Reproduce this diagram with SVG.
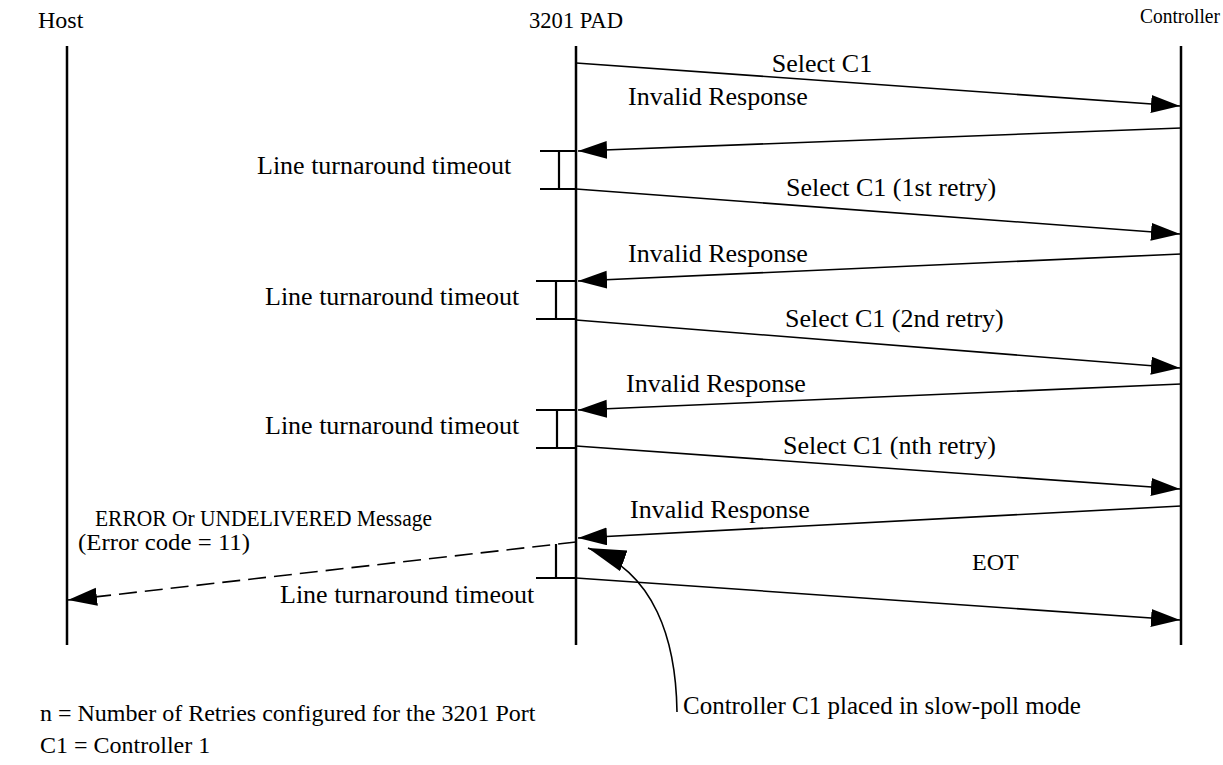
<svg xmlns="http://www.w3.org/2000/svg" width="1223" height="765" viewBox="0 0 1223 765">
  <style>
    text { font-family: "Liberation Serif", "Times New Roman", serif; font-size: 26px; fill: #000; }
    .hdr { font-size: 24px; }
    .caps { font-size: 24px; }
    .legend { font-size: 24px; }
    .life { stroke: #000; stroke-width: 2.5; fill: none; }
    .msg { stroke: #000; stroke-width: 1.6; fill: none; }
    .brk { stroke: #000; stroke-width: 2.2; fill: none; }
    .dash { stroke-dasharray: 18 8; }
  </style>
  <defs>
    <marker id="arr" markerWidth="30" markerHeight="20" refX="29" refY="9" orient="auto" markerUnits="userSpaceOnUse">
      <path d="M0,0 L29,9 L0,18 Z" fill="#000"/>
    </marker>
    <marker id="arrBig" markerWidth="40" markerHeight="24" refX="38" refY="11" orient="auto" markerUnits="userSpaceOnUse">
      <path d="M0,0 L38,11 L0,22 Z" fill="#000"/>
    </marker>
  </defs>

  <!-- lifelines -->
  <g id="host">
    <text class="hdr" x="38" y="28">Host</text>
    <line class="life" x1="67" y1="46" x2="67" y2="645"/>
  </g>
  <g id="pad">
    <text class="hdr" x="529" y="28" textLength="94" lengthAdjust="spacingAndGlyphs">3201 PAD</text>
    <line class="life" x1="576" y1="46" x2="576" y2="645"/>
  </g>
  <g id="controller">
    <text x="1140" y="23" style="font-size:21px" textLength="80" lengthAdjust="spacingAndGlyphs">Controller</text>
    <line class="life" x1="1181" y1="46" x2="1181" y2="645"/>
  </g>

  <!-- turnaround timeout brackets -->
  <g id="timeout1">
    <path class="brk" d="M540,151 H576 M540,189 H576 M559,151 V189"/>
    <text x="257" y="174">Line turnaround timeout</text>
  </g>
  <g id="timeout2">
    <path class="brk" d="M536,281 H576 M536,319 H576 M556,281 V319"/>
    <text x="265" y="305">Line turnaround timeout</text>
  </g>
  <g id="timeout3">
    <path class="brk" d="M536,410 H576 M536,448 H576 M557,410 V448"/>
    <text x="265" y="434">Line turnaround timeout</text>
  </g>
  <g id="timeout4">
    <path class="brk" d="M536,578 H576 M556,544 V578"/>
    <text x="280" y="603">Line turnaround timeout</text>
  </g>

  <!-- messages -->
  <g id="connectors">
    <line class="msg" x1="576" y1="63" x2="1180" y2="106" marker-end="url(#arr)"/>
    <line class="msg" x1="1181" y1="128" x2="578" y2="151" marker-end="url(#arr)"/>
    <line class="msg" x1="576" y1="189" x2="1180" y2="234" marker-end="url(#arr)"/>
    <line class="msg" x1="1181" y1="254" x2="578" y2="281" marker-end="url(#arr)"/>
    <line class="msg" x1="576" y1="320" x2="1180" y2="368" marker-end="url(#arr)"/>
    <line class="msg" x1="1181" y1="384" x2="578" y2="410" marker-end="url(#arr)"/>
    <line class="msg" x1="576" y1="446" x2="1180" y2="489" marker-end="url(#arr)"/>
    <line class="msg" x1="1181" y1="506" x2="578" y2="538" marker-end="url(#arr)"/>
    <line class="msg dash" x1="576" y1="542" x2="68" y2="600" marker-end="url(#arr)"/>
    <line class="msg" x1="576" y1="578" x2="1180" y2="620" marker-end="url(#arr)"/>
    <path class="msg" d="M677,712 C676,640 655,572 588,548" stroke-width="2.4" marker-end="url(#arrBig)"/>
  </g>

  <!-- message labels -->
  <g id="labels">
    <text x="822" y="72" text-anchor="middle">Select C1</text>
    <text x="628" y="105">Invalid Response</text>
    <text x="786" y="196">Select C1 (1st retry)</text>
    <text x="628" y="262">Invalid Response</text>
    <text x="785" y="327">Select C1 (2nd retry)</text>
    <text x="626" y="392">Invalid Response</text>
    <text x="783" y="454">Select C1 (nth retry)</text>
    <text x="630" y="518">Invalid Response</text>
    <text class="caps" x="95" y="526" textLength="337" lengthAdjust="spacingAndGlyphs">ERROR Or UNDELIVERED Message</text>
    <text class="caps" x="78" y="550" textLength="172" lengthAdjust="spacingAndGlyphs">(Error code = 11)</text>
    <text class="caps" x="972" y="570">EOT</text>
    <text x="683" y="714" style="font-size:25px">Controller C1 placed in slow-poll mode</text>
  </g>

  <!-- legend -->
  <g id="legend">
    <text class="legend" x="40" y="721">n = Number of Retries configured for the 3201 Port</text>
    <text class="legend" x="40" y="753">C1 = Controller 1</text>
  </g>
</svg>
